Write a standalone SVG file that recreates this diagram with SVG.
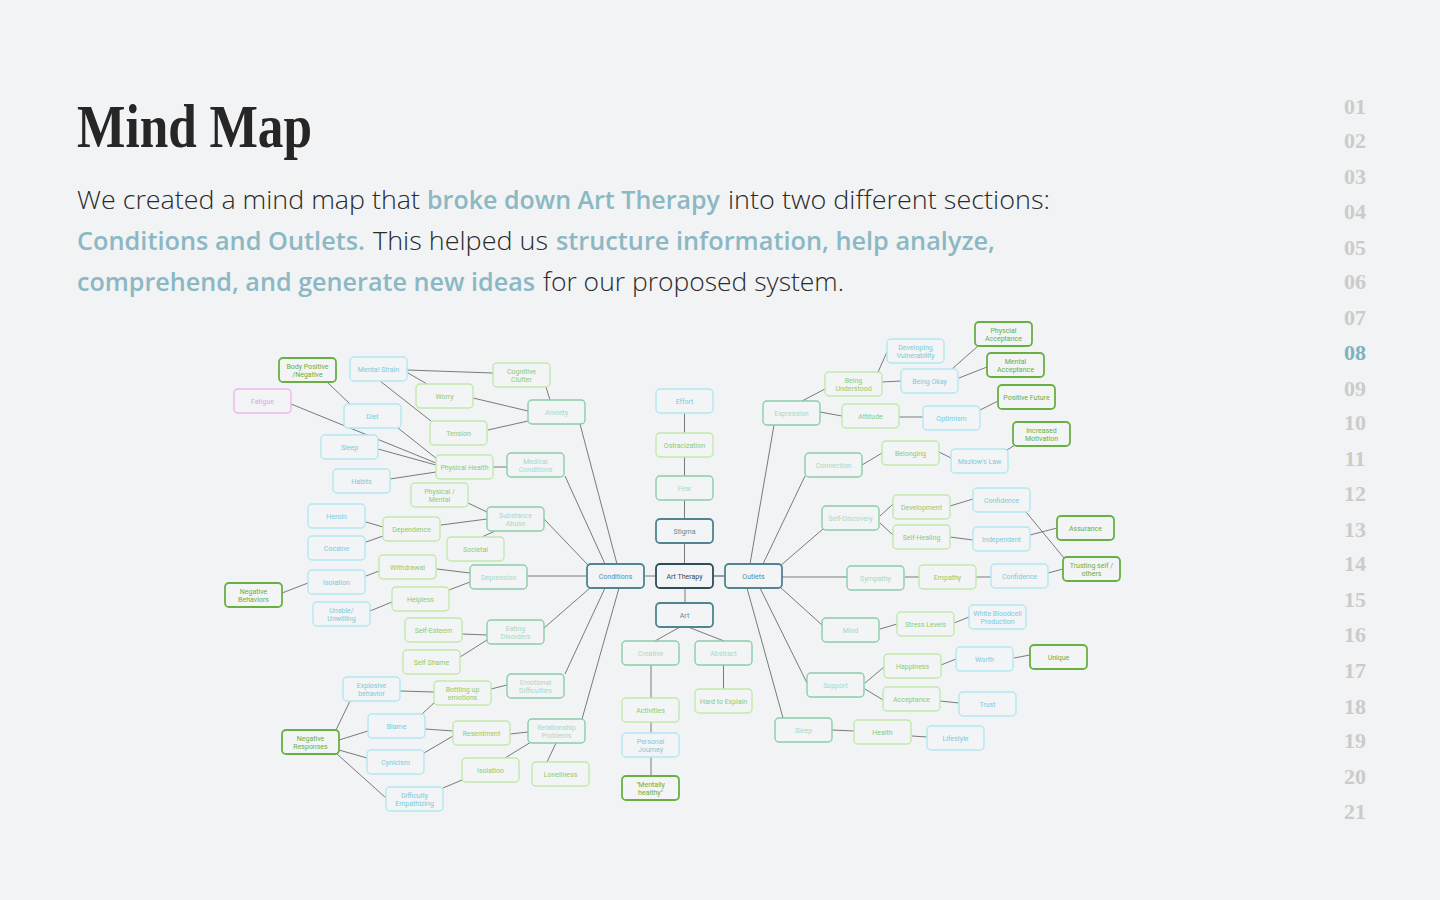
<svg xmlns="http://www.w3.org/2000/svg" width="1440" height="900" viewBox="0 0 1440 900">
<style>
.bg{fill:#f1f3f5}
.n rect{fill:#f2f4f6;stroke-width:1.4}
.n text{font-family:Roboto,"Liberation Sans",sans-serif;font-size:7px;text-anchor:middle}
.cy rect{stroke:#b3e8f2}.cy text{fill:#7dcadb}
.lg rect{stroke:#c2e9ac}.lg text{fill:#8fcc6c}
.tl rect{stroke:#8ccdab}.tl text{fill:#a9d9c3}
.dg rect{stroke:#69b042;stroke-width:1.8}.dg text{fill:#6aae45}
.sl rect{stroke:#4f8490;stroke-width:1.8}.sl text{fill:#5b8c97}
.dk rect{stroke:#2e4e57;stroke-width:1.8}.dk text{fill:#334a50}
.pk rect{stroke:#efb5ee}.pk text{fill:#e6a0e6}
#connectors line{stroke:#5a5a5a;stroke-width:0.8}
.body{font-family:"Open Sans","Liberation Sans",sans-serif;font-size:26px;font-weight:300;fill:#2a2a2a}
.hl{font-family:"Open Sans","Liberation Sans",sans-serif;font-size:26px;font-weight:600;fill:#8bb8c3}
.pg{font-family:"Liberation Serif",serif;font-size:22px;font-weight:bold;fill:#cbcbcb;text-anchor:middle}
</style>
<rect class="bg" x="0" y="0" width="1440" height="900"/>
<text x="77" y="147" font-family="Liberation Serif,serif" font-size="62" font-weight="bold" fill="#262626" textLength="235" lengthAdjust="spacingAndGlyphs">Mind Map</text>
<text class="body" x="77" y="209" textLength="343" lengthAdjust="spacingAndGlyphs">We created a mind map that</text>
<text class="hl" x="427" y="209" textLength="293" lengthAdjust="spacingAndGlyphs">broke down Art Therapy</text>
<text class="body" x="728" y="209" textLength="322" lengthAdjust="spacingAndGlyphs">into two different sections:</text>
<text class="hl" x="77" y="250" textLength="288" lengthAdjust="spacingAndGlyphs">Conditions and Outlets.</text>
<text class="body" x="373" y="250" textLength="175" lengthAdjust="spacingAndGlyphs">This helped us</text>
<text class="hl" x="556" y="250" textLength="439" lengthAdjust="spacingAndGlyphs">structure information, help analyze,</text>
<text class="hl" x="77" y="291" textLength="458" lengthAdjust="spacingAndGlyphs">comprehend, and generate new ideas</text>
<text class="body" x="543" y="291" textLength="301" lengthAdjust="spacingAndGlyphs">for our proposed system.</text>
<g id="pages">
<text class="pg" x="1355" y="114">01</text><text class="pg" x="1355" y="148">02</text><text class="pg" x="1355" y="184">03</text><text class="pg" x="1355" y="219">04</text><text class="pg" x="1355" y="255">05</text><text class="pg" x="1355" y="289">06</text><text class="pg" x="1355" y="325">07</text><text class="pg" x="1355" y="360" style="fill:#7fb2bc">08</text><text class="pg" x="1355" y="396">09</text><text class="pg" x="1355" y="430">10</text><text class="pg" x="1355" y="466">11</text><text class="pg" x="1355" y="501">12</text><text class="pg" x="1355" y="537">13</text><text class="pg" x="1355" y="571">14</text><text class="pg" x="1355" y="607">15</text><text class="pg" x="1355" y="642">16</text><text class="pg" x="1355" y="678">17</text><text class="pg" x="1355" y="714">18</text><text class="pg" x="1355" y="748">19</text><text class="pg" x="1355" y="784">20</text><text class="pg" x="1355" y="819">21</text>
</g>
<g id="connectors">
<line x1="327" y1="382" x2="350" y2="404"/>
<line x1="407" y1="370" x2="493" y2="373"/>
<line x1="408" y1="373" x2="427" y2="384"/>
<line x1="380" y1="381" x2="431" y2="421"/>
<line x1="546" y1="387" x2="550" y2="400"/>
<line x1="473" y1="398" x2="528" y2="411"/>
<line x1="488" y1="430" x2="528" y2="421"/>
<line x1="291" y1="404" x2="436" y2="463"/>
<line x1="378" y1="449" x2="436" y2="465"/>
<line x1="390" y1="479" x2="436" y2="472"/>
<line x1="398" y1="428" x2="437" y2="459"/>
<line x1="493" y1="467" x2="507" y2="467"/>
<line x1="565" y1="476" x2="605" y2="564"/>
<line x1="580" y1="424" x2="617" y2="564"/>
<line x1="468" y1="503" x2="487" y2="512"/>
<line x1="366" y1="522" x2="383" y2="527"/>
<line x1="366" y1="542" x2="383" y2="536"/>
<line x1="441" y1="525" x2="487" y2="519"/>
<line x1="482" y1="537" x2="495" y2="531"/>
<line x1="544" y1="519" x2="588" y2="565"/>
<line x1="282" y1="593" x2="308" y2="583"/>
<line x1="366" y1="576" x2="379" y2="571"/>
<line x1="437" y1="569" x2="470" y2="573"/>
<line x1="527" y1="576" x2="587" y2="576"/>
<line x1="449" y1="590" x2="470" y2="582"/>
<line x1="370" y1="611" x2="392" y2="602"/>
<line x1="462" y1="634" x2="487" y2="635"/>
<line x1="460" y1="657" x2="487" y2="640"/>
<line x1="544" y1="628" x2="590" y2="588"/>
<line x1="400" y1="691" x2="434" y2="692"/>
<line x1="491" y1="689" x2="507" y2="685"/>
<line x1="565" y1="674" x2="605" y2="588"/>
<line x1="582" y1="719" x2="619" y2="588"/>
<line x1="422" y1="714" x2="435" y2="702"/>
<line x1="425" y1="729" x2="453" y2="731"/>
<line x1="336" y1="730" x2="350" y2="701"/>
<line x1="339" y1="740" x2="368" y2="731"/>
<line x1="339" y1="750" x2="367" y2="758"/>
<line x1="337" y1="754" x2="386" y2="798"/>
<line x1="424" y1="753" x2="453" y2="736"/>
<line x1="510" y1="734" x2="528" y2="732"/>
<line x1="505" y1="758" x2="531" y2="742"/>
<line x1="547" y1="762" x2="556" y2="743"/>
<line x1="443" y1="788" x2="462" y2="780"/>
<line x1="684.5" y1="413" x2="684.5" y2="433"/>
<line x1="684.5" y1="457" x2="684.5" y2="476"/>
<line x1="684.5" y1="500" x2="684.5" y2="519"/>
<line x1="684.5" y1="543" x2="684.5" y2="564"/>
<line x1="644" y1="576" x2="656" y2="576"/>
<line x1="713" y1="576" x2="725" y2="576" style="stroke-width:1.4;stroke:#777"/>
<line x1="685" y1="588" x2="685" y2="603"/>
<line x1="680" y1="627" x2="655" y2="641"/>
<line x1="688" y1="627" x2="724" y2="641"/>
<line x1="723.5" y1="665" x2="723.5" y2="689"/>
<line x1="651" y1="665" x2="651" y2="698"/>
<line x1="651" y1="722" x2="651" y2="733"/>
<line x1="651" y1="757" x2="651" y2="776"/>
<line x1="750" y1="564" x2="774" y2="425"/>
<line x1="763" y1="564" x2="805" y2="476"/>
<line x1="780" y1="566" x2="823" y2="529"/>
<line x1="782" y1="577" x2="847" y2="577"/>
<line x1="780" y1="587" x2="822" y2="625"/>
<line x1="760" y1="588" x2="807" y2="683"/>
<line x1="747" y1="588" x2="783" y2="718"/>
<line x1="802" y1="401" x2="825" y2="389"/>
<line x1="878" y1="372" x2="887" y2="352"/>
<line x1="882" y1="382" x2="901" y2="381"/>
<line x1="952" y1="369" x2="978" y2="346"/>
<line x1="959" y1="378" x2="987" y2="367"/>
<line x1="820" y1="412" x2="842" y2="416"/>
<line x1="899" y1="417" x2="923" y2="417"/>
<line x1="980" y1="410" x2="998" y2="401"/>
<line x1="862" y1="465" x2="882" y2="453"/>
<line x1="939" y1="452" x2="951" y2="458"/>
<line x1="1007" y1="450" x2="1015" y2="445"/>
<line x1="880" y1="516" x2="893" y2="504"/>
<line x1="880" y1="523" x2="893" y2="535"/>
<line x1="950" y1="506" x2="973" y2="499"/>
<line x1="950" y1="537" x2="973" y2="540"/>
<line x1="1026" y1="512" x2="1064" y2="558"/>
<line x1="1030" y1="535" x2="1057" y2="528"/>
<line x1="905" y1="577" x2="919" y2="577"/>
<line x1="976" y1="577" x2="991" y2="577"/>
<line x1="1048" y1="573" x2="1063" y2="569"/>
<line x1="880" y1="629" x2="897" y2="624"/>
<line x1="954" y1="623" x2="969" y2="617"/>
<line x1="865" y1="683" x2="884" y2="667"/>
<line x1="865" y1="689" x2="883" y2="700"/>
<line x1="941" y1="665" x2="956" y2="659"/>
<line x1="1014" y1="658" x2="1030" y2="655"/>
<line x1="940" y1="701" x2="959" y2="703"/>
<line x1="832" y1="730" x2="854" y2="731"/>
<line x1="912" y1="736" x2="927" y2="737"/>
</g>
<g id="body-positive" class="n dg"><rect x="279" y="358" width="57" height="24" rx="4"/><text x="307.5" y="368.5">Body Positive</text><text x="307.5" y="376.5">/Negative</text></g>
<g id="mental-strain" class="n cy"><rect x="350" y="357" width="57" height="24" rx="4"/><text x="378.5" y="371.5">Mental Strain</text></g>
<g id="cognitive-clutter" class="n lg"><rect x="493" y="363" width="57" height="24" rx="4"/><text x="521.5" y="373.5">Cognitive</text><text x="521.5" y="381.5">Clutter</text></g>
<g id="fatigue" class="n pk"><rect x="234" y="389" width="57" height="24" rx="4"/><text x="262.5" y="403.5">Fatigue</text></g>
<g id="worry" class="n lg"><rect x="416" y="384" width="57" height="24" rx="4"/><text x="444.5" y="398.5">Worry</text></g>
<g id="diet" class="n cy"><rect x="344" y="404" width="57" height="24" rx="4"/><text x="372.5" y="418.5">Diet</text></g>
<g id="anxiety" class="n tl"><rect x="528" y="400" width="57" height="24" rx="4"/><text x="556.5" y="414.5">Anxiety</text></g>
<g id="tension" class="n lg"><rect x="430" y="421" width="57" height="24" rx="4"/><text x="458.5" y="435.5">Tension</text></g>
<g id="sleep-left" class="n cy"><rect x="321" y="435" width="57" height="24" rx="4"/><text x="349.5" y="449.5">Sleep</text></g>
<g id="physical-health" class="n lg"><rect x="436" y="455" width="57" height="24" rx="4"/><text x="464.5" y="469.5">Physical Health</text></g>
<g id="medical-conditions" class="n tl"><rect x="507" y="453" width="57" height="24" rx="4"/><text x="535.5" y="463.5">Medical</text><text x="535.5" y="471.5">Conditions</text></g>
<g id="habits" class="n cy"><rect x="333" y="469" width="57" height="24" rx="4"/><text x="361.5" y="483.5">Habits</text></g>
<g id="physical-mental" class="n lg"><rect x="411" y="483" width="57" height="24" rx="4"/><text x="439.5" y="493.5">Physical /</text><text x="439.5" y="501.5">Mental</text></g>
<g id="heroin" class="n cy"><rect x="308" y="504" width="57" height="24" rx="4"/><text x="336.5" y="518.5">Heroin</text></g>
<g id="dependence" class="n lg"><rect x="383" y="517" width="57" height="24" rx="4"/><text x="411.5" y="531.5">Dependence</text></g>
<g id="substance-abuse" class="n tl"><rect x="487" y="507" width="57" height="24" rx="4"/><text x="515.5" y="517.5">Substance</text><text x="515.5" y="525.5">Abuse</text></g>
<g id="cocaine" class="n cy"><rect x="308" y="536" width="57" height="24" rx="4"/><text x="336.5" y="550.5">Cocaine</text></g>
<g id="societal" class="n lg"><rect x="447" y="537" width="57" height="24" rx="4"/><text x="475.5" y="551.5">Societal</text></g>
<g id="withdrawal" class="n lg"><rect x="379" y="555" width="57" height="24" rx="4"/><text x="407.5" y="569.5">Withdrawal</text></g>
<g id="isolation-left" class="n cy"><rect x="308" y="570" width="57" height="24" rx="4"/><text x="336.5" y="584.5">Isolation</text></g>
<g id="depression" class="n tl"><rect x="470" y="565" width="57" height="24" rx="4"/><text x="498.5" y="579.5">Depression</text></g>
<g id="conditions" class="n sl"><rect x="587" y="564" width="57" height="24" rx="4"/><text x="615.5" y="578.5">Conditions</text></g>
<g id="negative-behaviors" class="n dg"><rect x="225" y="583" width="57" height="24" rx="4"/><text x="253.5" y="593.5">Negative</text><text x="253.5" y="601.5">Behaviors</text></g>
<g id="helpless" class="n lg"><rect x="392" y="587" width="57" height="24" rx="4"/><text x="420.5" y="601.5">Helpless</text></g>
<g id="unable-unwilling" class="n cy"><rect x="313" y="602" width="57" height="24" rx="4"/><text x="341.5" y="612.5">Unable/</text><text x="341.5" y="620.5">Unwilling</text></g>
<g id="self-esteem" class="n lg"><rect x="405" y="618" width="57" height="24" rx="4"/><text x="433.5" y="632.5">Self-Esteem</text></g>
<g id="eating-disorders" class="n tl"><rect x="487" y="620" width="57" height="24" rx="4"/><text x="515.5" y="630.5">Eating</text><text x="515.5" y="638.5">Disorders</text></g>
<g id="self-shame" class="n lg"><rect x="403" y="650" width="57" height="24" rx="4"/><text x="431.5" y="664.5">Self Shame</text></g>
<g id="explosive-behavior" class="n cy"><rect x="343" y="677" width="57" height="24" rx="4"/><text x="371.5" y="687.5">Explosive</text><text x="371.5" y="695.5">behavior</text></g>
<g id="bottling-up" class="n lg"><rect x="434" y="681" width="57" height="24" rx="4"/><text x="462.5" y="691.5">Bottling up</text><text x="462.5" y="699.5">emotions</text></g>
<g id="emotional-difficulties" class="n tl"><rect x="507" y="674" width="57" height="24" rx="4"/><text x="535.5" y="684.5">Emotional</text><text x="535.5" y="692.5">Difficulties</text></g>
<g id="blame" class="n cy"><rect x="368" y="714" width="57" height="24" rx="4"/><text x="396.5" y="728.5">Blame</text></g>
<g id="negative-responses" class="n dg"><rect x="282" y="730" width="57" height="24" rx="4"/><text x="310.5" y="740.5">Negative</text><text x="310.5" y="748.5">Responses</text></g>
<g id="resentment" class="n lg"><rect x="453" y="721" width="57" height="24" rx="4"/><text x="481.5" y="735.5">Resentment</text></g>
<g id="relationship-problems" class="n tl"><rect x="528" y="719" width="57" height="24" rx="4"/><text x="556.5" y="729.5">Relationship</text><text x="556.5" y="737.5">Problems</text></g>
<g id="cynicism" class="n cy"><rect x="367" y="750" width="57" height="24" rx="4"/><text x="395.5" y="764.5">Cynicism</text></g>
<g id="isolation-right" class="n lg"><rect x="462" y="758" width="57" height="24" rx="4"/><text x="490.5" y="772.5">Isolation</text></g>
<g id="loneliness" class="n lg"><rect x="532" y="762" width="57" height="24" rx="4"/><text x="560.5" y="776.5">Loneliness</text></g>
<g id="difficulty-empathizing" class="n cy"><rect x="386" y="787" width="57" height="24" rx="4"/><text x="414.5" y="797.5">Difficulty</text><text x="414.5" y="805.5">Empathizing</text></g>
<g id="effort" class="n cy"><rect x="656" y="389" width="57" height="24" rx="4"/><text x="684.5" y="403.5">Effort</text></g>
<g id="ostracization" class="n lg"><rect x="656" y="433" width="57" height="24" rx="4"/><text x="684.5" y="447.5">Ostracization</text></g>
<g id="fear" class="n tl"><rect x="656" y="476" width="57" height="24" rx="4"/><text x="684.5" y="490.5">Fear</text></g>
<g id="stigma" class="n sl"><rect x="656" y="519" width="57" height="24" rx="4"/><text x="684.5" y="533.5">Stigma</text></g>
<g id="art-therapy" class="n dk"><rect x="656" y="564" width="57" height="24" rx="4"/><text x="684.5" y="578.5">Art Therapy</text></g>
<g id="outlets" class="n sl"><rect x="725" y="564" width="57" height="24" rx="4"/><text x="753.5" y="578.5">Outlets</text></g>
<g id="art" class="n sl"><rect x="656" y="603" width="57" height="24" rx="4"/><text x="684.5" y="617.5">Art</text></g>
<g id="creative" class="n tl"><rect x="622" y="641" width="57" height="24" rx="4"/><text x="650.5" y="655.5">Creative</text></g>
<g id="abstract" class="n tl"><rect x="695" y="641" width="57" height="24" rx="4"/><text x="723.5" y="655.5">Abstract</text></g>
<g id="hard-to-explain" class="n lg"><rect x="695" y="689" width="57" height="24" rx="4"/><text x="723.5" y="703.5">Hard to Explain</text></g>
<g id="activities" class="n lg"><rect x="622" y="698" width="57" height="24" rx="4"/><text x="650.5" y="712.5">Activities</text></g>
<g id="personal-journey" class="n cy"><rect x="622" y="733" width="57" height="24" rx="4"/><text x="650.5" y="743.5">Personal</text><text x="650.5" y="751.5">Journey</text></g>
<g id="mentally-healthy" class="n dg"><rect x="622" y="776" width="57" height="24" rx="4"/><text x="650.5" y="786.5">"Mentally</text><text x="650.5" y="794.5">healthy"</text></g>
<g id="physcial-acceptance" class="n dg"><rect x="975" y="322" width="57" height="24" rx="4"/><text x="1003.5" y="332.5">Physcial</text><text x="1003.5" y="340.5">Acceptance</text></g>
<g id="developing-vulnerability" class="n cy"><rect x="887" y="339" width="57" height="24" rx="4"/><text x="915.5" y="349.5">Developing</text><text x="915.5" y="357.5">Vulnerability</text></g>
<g id="mental-acceptance" class="n dg"><rect x="987" y="353" width="57" height="24" rx="4"/><text x="1015.5" y="363.5">Mental</text><text x="1015.5" y="371.5">Acceptance</text></g>
<g id="being-understood" class="n lg"><rect x="825" y="372" width="57" height="24" rx="4"/><text x="853.5" y="382.5">Being</text><text x="853.5" y="390.5">Understood</text></g>
<g id="being-okay" class="n cy"><rect x="901" y="369" width="57" height="24" rx="4"/><text x="929.5" y="383.5">Being Okay</text></g>
<g id="positive-future" class="n dg"><rect x="998" y="385" width="57" height="24" rx="4"/><text x="1026.5" y="399.5">Positive Future</text></g>
<g id="expression" class="n tl"><rect x="763" y="401" width="57" height="24" rx="4"/><text x="791.5" y="415.5">Expression</text></g>
<g id="attitude" class="n lg"><rect x="842" y="404" width="57" height="24" rx="4"/><text x="870.5" y="418.5">Attitude</text></g>
<g id="optimism" class="n cy"><rect x="923" y="406" width="57" height="24" rx="4"/><text x="951.5" y="420.5">Optimism</text></g>
<g id="increased-motivation" class="n dg"><rect x="1013" y="422" width="57" height="24" rx="4"/><text x="1041.5" y="432.5">Increased</text><text x="1041.5" y="440.5">Motivation</text></g>
<g id="belonging" class="n lg"><rect x="882" y="441" width="57" height="24" rx="4"/><text x="910.5" y="455.5">Belonging</text></g>
<g id="connection" class="n tl"><rect x="805" y="453" width="57" height="24" rx="4"/><text x="833.5" y="467.5">Connection</text></g>
<g id="mazlows-law" class="n cy"><rect x="951" y="449" width="57" height="24" rx="4"/><text x="979.5" y="463.5">Mazlow's Law</text></g>
<g id="confidence-1" class="n cy"><rect x="973" y="488" width="57" height="24" rx="4"/><text x="1001.5" y="502.5">Confidence</text></g>
<g id="development" class="n lg"><rect x="893" y="495" width="57" height="24" rx="4"/><text x="921.5" y="509.5">Development</text></g>
<g id="self-discovery" class="n tl"><rect x="822" y="506" width="57" height="24" rx="4"/><text x="850.5" y="520.5">Self-Discovery</text></g>
<g id="assurance" class="n dg"><rect x="1057" y="516" width="57" height="24" rx="4"/><text x="1085.5" y="530.5">Assurance</text></g>
<g id="self-healing" class="n lg"><rect x="893" y="525" width="57" height="24" rx="4"/><text x="921.5" y="539.5">Self-Healing</text></g>
<g id="independent" class="n cy"><rect x="973" y="527" width="57" height="24" rx="4"/><text x="1001.5" y="541.5">Independent</text></g>
<g id="trusting" class="n dg"><rect x="1063" y="557" width="57" height="24" rx="4"/><text x="1091.5" y="567.5">Trusting self /</text><text x="1091.5" y="575.5">others</text></g>
<g id="sympathy" class="n tl"><rect x="847" y="566" width="57" height="24" rx="4"/><text x="875.5" y="580.5">Sympathy</text></g>
<g id="empathy" class="n lg"><rect x="919" y="565" width="57" height="24" rx="4"/><text x="947.5" y="579.5">Empathy</text></g>
<g id="confidence-2" class="n cy"><rect x="991" y="564" width="57" height="24" rx="4"/><text x="1019.5" y="578.5">Confidence</text></g>
<g id="white-bloodcell" class="n cy"><rect x="969" y="605" width="57" height="24" rx="4"/><text x="997.5" y="615.5">White Bloodcell</text><text x="997.5" y="623.5">Production</text></g>
<g id="stress-levels" class="n lg"><rect x="897" y="612" width="57" height="24" rx="4"/><text x="925.5" y="626.5">Stress Levels</text></g>
<g id="mind" class="n tl"><rect x="822" y="618" width="57" height="24" rx="4"/><text x="850.5" y="632.5">Mind</text></g>
<g id="unique" class="n dg"><rect x="1030" y="645" width="57" height="24" rx="4"/><text x="1058.5" y="659.5">Unique</text></g>
<g id="worth" class="n cy"><rect x="956" y="647" width="57" height="24" rx="4"/><text x="984.5" y="661.5">Worth</text></g>
<g id="happiness" class="n lg"><rect x="884" y="654" width="57" height="24" rx="4"/><text x="912.5" y="668.5">Happiness</text></g>
<g id="support" class="n tl"><rect x="807" y="673" width="57" height="24" rx="4"/><text x="835.5" y="687.5">Support</text></g>
<g id="acceptance" class="n lg"><rect x="883" y="687" width="57" height="24" rx="4"/><text x="911.5" y="701.5">Acceptance</text></g>
<g id="trust" class="n cy"><rect x="959" y="692" width="57" height="24" rx="4"/><text x="987.5" y="706.5">Trust</text></g>
<g id="sleep-right" class="n tl"><rect x="775" y="718" width="57" height="24" rx="4"/><text x="803.5" y="732.5">Sleep</text></g>
<g id="health" class="n lg"><rect x="854" y="720" width="57" height="24" rx="4"/><text x="882.5" y="734.5">Health</text></g>
<g id="lifestyle" class="n cy"><rect x="927" y="726" width="57" height="24" rx="4"/><text x="955.5" y="740.5">Lifestyle</text></g>
</svg>
